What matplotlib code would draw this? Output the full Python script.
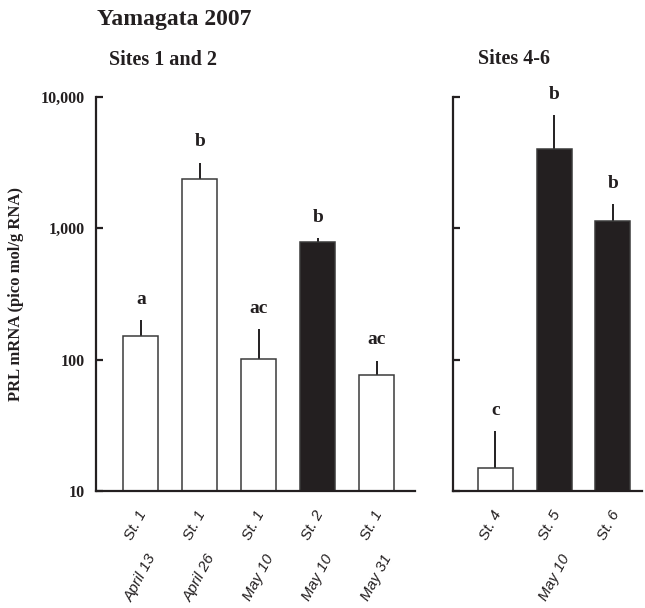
import matplotlib.pyplot as plt
import numpy as np

# values (log scale)
left_st = ["St. 1", "St. 1", "St. 1", "St. 2", "St. 1"]
left_dates = ["April 13", "April 26", "May 10", "May 10", "May 31"]
left_mean = [152, 2394, 101, 785, 76]
left_se = [47, 754, 70, 58, 22]
left_black = [False, False, False, True, False]
left_letters = ["a", "b", "ac", "b", "ac"]

right_st = ["St. 4", "St. 5", "St. 6"]
right_dates = ["", "May 10", ""]
right_mean = [14.9, 4010, 1137]
right_se = [13.5, 3280, 387]
right_black = [False, True, True]
right_letters = ["c", "b", "b"]

yticks = [10, 100, 1000, 10000]
ytick_labels = ["10", "100", "1,000", "10,000"]

serif = "Liberation Serif"
sans = "Liberation Sans"
dark = "#231f20"

fig = plt.figure(figsize=(6.45, 6.08), dpi=100)
ax1 = fig.add_axes([0.1488, 0.1924, 0.4946, 0.648])
ax2 = fig.add_axes([0.7023, 0.1924, 0.293, 0.648])


def draw_panel(ax, st, dates, mean, se, black, letters, xlim):
    x = np.arange(len(mean))
    colors = [dark if b else "white" for b in black]
    ax.bar(x, mean, width=0.595, color=colors, edgecolor="#3a3a3a",
           linewidth=1.1, zorder=2)
    ax.errorbar(x, mean, yerr=[np.zeros(len(se)), se], fmt="none",
                ecolor=dark, elinewidth=1.4, capsize=0, zorder=1)
    for xi, m, s, lab in zip(x, mean, se, letters):
        ax.annotate(lab, xy=(xi, m + s), xytext=(0, 9),
                    textcoords="offset points", ha="center", va="bottom",
                    fontsize=14, fontweight="bold", family=serif, color=dark)
    tr = ax.get_xaxis_transform()
    for xi, s, d in zip(x, st, dates):
        ax.annotate(s, xy=(xi, 0), xycoords=tr, xytext=(6.5, -12.2),
                    textcoords="offset points", rotation=62, ha="right",
                    va="top", fontsize=11, style="italic", family=sans,
                    color=dark)
        if d:
            ax.annotate(d, xy=(xi, 0), xycoords=tr, xytext=(13, -44),
                        textcoords="offset points", rotation=62, ha="right",
                        va="top", fontsize=11, style="italic", family=sans,
                        color=dark)
    ax.set_yscale("log")
    ax.set_ylim(10, 10000)
    ax.set_xlim(*xlim)
    ax.set_yticks(yticks)
    ax.minorticks_off()
    ax.set_xticks([])
    for side in ["top", "right"]:
        ax.spines[side].set_visible(False)
    for side in ["left", "bottom"]:
        ax.spines[side].set_linewidth(1.6)
        ax.spines[side].set_color(dark)
    ax.tick_params(axis="y", direction="in", length=5, width=1.6,
                   color=dark, pad=8)


draw_panel(ax1, left_st, left_dates, left_mean, left_se, left_black,
           left_letters, (-0.76, 4.65))
draw_panel(ax2, right_st, right_dates, right_mean, right_se, right_black,
           right_letters, (-0.724, 2.495))

ax1.set_yticklabels(ytick_labels, fontsize=11.5, fontweight="bold",
                    family=serif, color=dark)
ax2.set_yticklabels([])
ax1.set_ylabel("PRL mRNA (pico mol/g RNA)", fontsize=12, fontweight="bold",
               family=serif, color=dark, labelpad=12)

fig.text(174 / 645, 1 - 20 / 608, "Yamagata 2007", ha="center", va="center",
         fontsize=17, fontweight="bold", family=serif, color=dark)
fig.text(163 / 645, 1 - 60 / 608, "Sites 1 and 2", ha="center", va="center",
         fontsize=14.5, fontweight="bold", family=serif, color=dark)
fig.text(514 / 645, 1 - 59 / 608, "Sites 4-6", ha="center", va="center",
         fontsize=14.5, fontweight="bold", family=serif, color=dark)

fig.savefig("out.png", dpi=100)
